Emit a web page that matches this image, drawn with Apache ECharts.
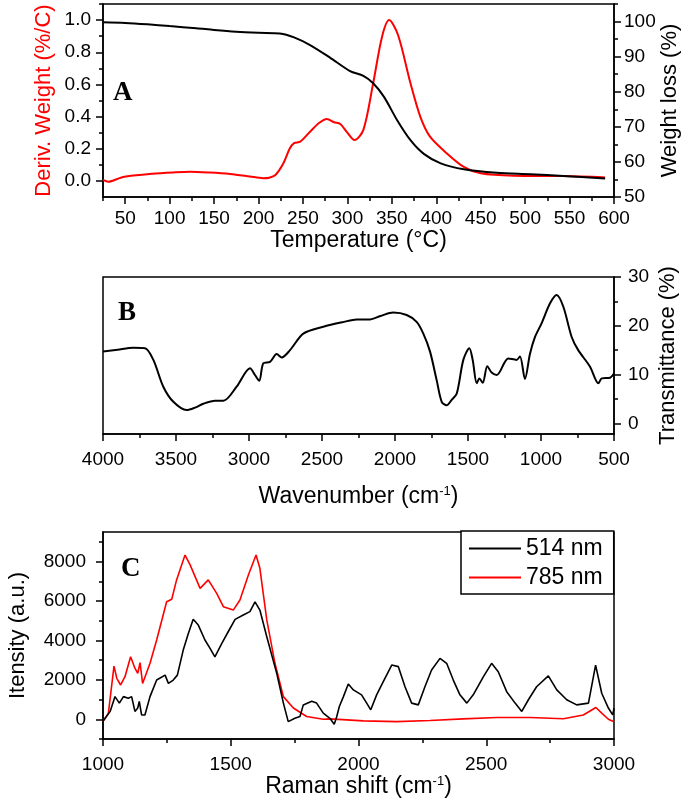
<!DOCTYPE html>
<html>
<head>
<meta charset="utf-8">
<script src="https://cdn.jsdelivr.net/npm/echarts@6/dist/echarts.min.js"></script>
<style>html,body{margin:0;padding:0;background:#fff;}#c{width:685px;height:805px;}</style>
</head>
<body>
<div id="c"></div>
<script>
// ---- Panel A: TGA / DTG ----
const tgaTemp   = [25, 50, 75, 100, 130, 150, 175, 200, 224, 240, 258, 280, 303, 318, 329, 341, 356, 371, 386, 405, 431, 468, 506, 543, 590];
const tgaWeight = [99.8, 99.6, 99.2, 98.7, 98.1, 97.6, 97.1, 96.8, 96.6, 95.5, 93.3, 89.8, 85.9, 84.5, 82.4, 78.6, 71.9, 66.2, 62.3, 59.6, 57.9, 56.9, 56.5, 56.0, 55.3];
const dtgTemp  = [25, 31, 45, 59, 80, 104, 123, 145, 168, 190, 205, 212, 219, 228, 235, 240, 247, 258, 268, 277, 285, 292, 300, 308, 318, 329, 339, 347, 357, 371, 382, 393, 412, 431, 450, 487, 543, 590];
const dtgValue = [0.006, -0.005, 0.02, 0.033, 0.045, 0.053, 0.057, 0.052, 0.043, 0.028, 0.017, 0.02, 0.037, 0.11, 0.2, 0.235, 0.244, 0.306, 0.36, 0.385, 0.365, 0.354, 0.3, 0.254, 0.317, 0.607, 0.897, 1.0, 0.907, 0.607, 0.40, 0.275, 0.171, 0.087, 0.047, 0.032, 0.03, 0.022];

// ---- Panel B: FTIR ----
const irWavenumber = [4000, 3900, 3792, 3712, 3655, 3587, 3518, 3427, 3370, 3313, 3233, 3176, 3085, 2993, 2959, 2930, 2902, 2856, 2810, 2776, 2719, 2628, 2491, 2350, 2262, 2171, 2100, 2012, 1920, 1852, 1806, 1760, 1715, 1680, 1646, 1612, 1577, 1532, 1491, 1468, 1440, 1422, 1399, 1368, 1338, 1303, 1224, 1167, 1144, 1110, 1075, 1041, 996, 938, 893, 847, 790, 745, 664, 607, 584, 527, 500];
const irTransmittance = [14.7, 15.1, 15.5, 15.4, 13.0, 7.5, 4.4, 2.7, 3.2, 4.0, 4.6, 4.6, 7.5, 11.3, 9.9, 8.7, 12.3, 12.6, 14.2, 13.5, 15.0, 18.4, 19.8, 20.8, 21.3, 21.3, 22.0, 22.7, 22.2, 20.8, 18.4, 14.7, 8.9, 4.4, 3.7, 4.8, 6.1, 13.0, 15.4, 13.0, 8.2, 9.2, 8.3, 11.7, 10.4, 9.9, 13.3, 13.0, 13.7, 9.1, 14.3, 17.7, 20.5, 24.6, 26.3, 23.9, 17.7, 15.0, 11.6, 8.2, 9.2, 9.35, 10.2];

// ---- Panel C: Raman ----
const raman514Shift = [1000, 1004, 1028, 1047, 1064, 1080, 1099, 1112, 1125, 1136, 1142, 1151, 1164, 1184, 1210, 1243, 1256, 1275, 1291, 1314, 1334, 1353, 1373, 1399, 1419, 1438, 1465, 1490, 1517, 1549, 1575, 1595, 1614, 1641, 1680, 1706, 1725, 1751, 1771, 1784, 1817, 1836, 1862, 1888, 1905, 1915, 1925, 1941, 1960, 1980, 2012, 2032, 2048, 2071, 2097, 2130, 2156, 2182, 2208, 2234, 2260, 2286, 2319, 2345, 2371, 2397, 2424, 2449, 2489, 2521, 2547, 2580, 2613, 2639, 2665, 2697, 2743, 2776, 2815, 2854, 2900, 2928, 2952, 2978, 2995, 3000];
const raman514Intensity = [-100, -120, 400, 1150, 820, 1150, 1070, 1150, 400, 570, 910, 220, 220, 1150, 1990, 2240, 1820, 1990, 2240, 3510, 4350, 5070, 4780, 4020, 3600, 3170, 3850, 4440, 5070, 5290, 5460, 5960, 5540, 4190, 2330, 820, -120, 50, 140, 730, 910, 820, 310, 50, -250, 140, 650, 1150, 1790, 1490, 1240, 820, 480, 1240, 1910, 2750, 2670, 1650, 820, 730, 1650, 2500, 3090, 2840, 1990, 1240, 820, 1240, 2160, 2840, 2410, 1400, 820, 400, 990, 1650, 2200, 1490, 990, 730, 820, 2750, 1320, 570, 220, 570];
const raman785Shift = [1000, 1004, 1021, 1043, 1054, 1069, 1086, 1108, 1125, 1136, 1145, 1155, 1184, 1210, 1249, 1269, 1288, 1321, 1341, 1380, 1412, 1445, 1471, 1510, 1536, 1569, 1599, 1614, 1641, 1673, 1706, 1745, 1797, 1862, 1888, 2019, 2149, 2280, 2410, 2541, 2671, 2802, 2880, 2929, 2952, 2978, 3000];
const raman785Intensity = [-100, -120, 300, 2700, 2080, 1740, 2160, 3170, 2590, 2330, 2870, 1820, 2840, 4020, 5960, 6090, 7070, 8330, 7830, 6640, 7070, 6390, 5710, 5540, 6050, 7320, 8330, 7660, 5040, 2840, 1150, 570, 140, 0, 20, -80, -120, -60, 20, 90, 90, 30, 220, 600, 310, 0, -120];

// ---- Tick values / labels ----
const aTempLabels = [50, 100, 150, 200, 250, 300, 350, 400, 450, 500, 550, 600];
const aTempTicks  = [25, 50, 75, 100, 125, 150, 175, 200, 225, 250, 275, 300, 325, 350, 375, 400, 425, 450, 475, 500, 525, 550, 575, 600];
const aDerivLabels = [0, 0.2, 0.4, 0.6, 0.8, 1.0];
const aDerivTicks  = [0, 0.1, 0.2, 0.3, 0.4, 0.5, 0.6, 0.7, 0.8, 0.9, 1.0, 1.1];
const aWeightLabels = [50, 60, 70, 80, 90, 100];
const aWeightTicks  = [50, 55, 60, 65, 70, 75, 80, 85, 90, 95, 100, 105];
const bWaveLabels = [500, 1000, 1500, 2000, 2500, 3000, 3500, 4000];
const bWaveTicks  = [500, 750, 1000, 1250, 1500, 1750, 2000, 2250, 2500, 2750, 3000, 3250, 3500, 3750, 4000];
const bTransLabels = [0, 10, 20, 30];
const bTransTicks  = [0, 5, 10, 15, 20, 25, 30];
const cShiftLabels = [1000, 1500, 2000, 2500, 3000];
const cShiftTicks  = [1000, 1250, 1500, 1750, 2000, 2250, 2500, 2750, 3000];
const cIntLabels = [0, 2000, 4000, 6000, 8000];
const cIntTicks  = [-1000, 0, 1000, 2000, 3000, 4000, 5000, 6000, 7000, 8000, 9000];

const pairs = (xs, ys) => xs.map((x, i) => [x, ys[i]]);
const FONT = '"Liberation Sans", Arial, sans-serif';
const LS = { color: '#000', width: 1.5 };
const plain = v => String(v);
const lblStyle = (margin, extra) => Object.assign({ show: true, margin: margin, fontSize: 19, color: '#000', fontFamily: FONT, formatter: plain }, extra || {});
const nameStyle = (color, size) => ({ fontSize: size, color: color || '#000', fontFamily: FONT,
  rich: { t: { fontSize: size, color: '#000', fontFamily: FONT }, s: { fontSize: 13, color: '#000', fontFamily: FONT, verticalAlign: 'top', padding: [0, 0, 9, 0] } } });

function mainAxis(o) {
  const ax = {
    gridIndex: o.grid, type: 'value', min: o.min, max: o.max, position: o.pos, inverse: !!o.inverse,
    axisLine: { show: true, onZero: false, lineStyle: LS },
    axisTick: { show: true, inside: false, length: 4, customValues: o.ticks, lineStyle: LS },
    axisLabel: lblStyle(o.margin, Object.assign({ customValues: o.labels }, o.fmt ? { formatter: o.fmt } : {})),
    splitLine: { show: false }, minorTick: { show: false }
  };
  if (o.name) {
    ax.name = o.name; ax.nameLocation = 'middle'; ax.nameGap = o.gap;
    ax.nameTextStyle = nameStyle(o.nameColor, o.nameSize || 22); ax.nameMoveOverlap = false;
  }
  return ax;
}
function majorAxis(o) {
  return {
    gridIndex: o.grid, type: 'value', min: o.min, max: o.max, position: o.pos, inverse: !!o.inverse,
    axisLine: { show: false, onZero: false },
    axisTick: { show: true, inside: false, length: 7, customValues: o.labels, lineStyle: LS },
    axisLabel: { show: false }, splitLine: { show: false }
  };
}

const xAxes = [
  mainAxis({ grid: 0, min: 25, max: 600, pos: 'bottom', ticks: aTempTicks, labels: aTempLabels, margin: 12, name: 'Temperature (°C)', gap: 32, nameSize: 23 }),
  majorAxis({ grid: 0, min: 25, max: 600, pos: 'bottom', labels: aTempLabels }),
  mainAxis({ grid: 1, min: 500, max: 4000, pos: 'bottom', inverse: true, ticks: bWaveTicks, labels: bWaveLabels, margin: 16, name: '{t|Wavenumber (cm}{s|-1}{t|)}', gap: 51, nameSize: 23 }),
  majorAxis({ grid: 1, min: 500, max: 4000, pos: 'bottom', inverse: true, labels: bWaveLabels }),
  mainAxis({ grid: 2, min: 1000, max: 3000, pos: 'bottom', ticks: cShiftTicks, labels: cShiftLabels, margin: 16, name: '{t|Raman shift (cm}{s|-1}{t|)}', gap: 36, nameSize: 23 }),
  majorAxis({ grid: 2, min: 1000, max: 3000, pos: 'bottom', labels: cShiftLabels })
];
const yAxes = [
  mainAxis({ grid: 0, min: -0.1, max: 1.1, pos: 'left', ticks: aDerivTicks, labels: aDerivLabels, margin: 12, fmt: v => v.toFixed(1), name: 'Deriv. Weight (%/C)', gap: 48, nameColor: '#ff0000' }),
  mainAxis({ grid: 0, min: 50, max: 105, pos: 'right', ticks: aWeightTicks, labels: aWeightLabels, margin: 10, name: 'Weight loss (%)', gap: 45 }),
  majorAxis({ grid: 0, min: -0.1, max: 1.1, pos: 'left', labels: aDerivLabels }),
  majorAxis({ grid: 0, min: 50, max: 105, pos: 'right', labels: aWeightLabels }),
  mainAxis({ grid: 1, min: -2.2, max: 30, pos: 'right', ticks: bTransTicks, labels: bTransLabels, margin: 14, name: 'Transmittance (%)', gap: 43 }),
  majorAxis({ grid: 1, min: -2.2, max: 30, pos: 'right', labels: bTransLabels }),
  mainAxis({ grid: 2, min: -1000, max: 9500, pos: 'left', ticks: cIntTicks, labels: cIntLabels, margin: 17, name: 'Itensity (a.u.)', gap: 74 }),
  majorAxis({ grid: 2, min: -1000, max: 9500, pos: 'left', labels: cIntLabels })
];

const gridBase = { show: true, borderColor: '#000', borderWidth: 1.5, backgroundColor: 'transparent', left: 103, right: 71, containLabel: false, outerBoundsMode: 'none' };
const line = (o) => Object.assign({ type: 'line', symbol: 'none', showSymbol: false, animation: false }, o);
const letterFont = 'bold 27px "Liberation Serif", "Times New Roman", serif';

const option = {
  animation: false,
  backgroundColor: '#fff',
  grid: [
    Object.assign({}, gridBase, { top: 4, height: 193 }),
    Object.assign({}, gridBase, { top: 277, height: 157 }),
    Object.assign({}, gridBase, { top: 532, height: 207 })
  ],
  xAxis: xAxes,
  yAxis: yAxes,
  legend: {
    data: ['514 nm', '785 nm'], orient: 'vertical', left: 461, top: 531,
    icon: 'rect', padding: [6, 11, 5, 8], itemGap: 6, itemWidth: 52, itemHeight: 2,
    borderColor: '#000', borderWidth: 1.5, backgroundColor: '#fff',
    textStyle: { fontSize: 23, color: '#000', fontFamily: FONT }
  },
  graphic: [
    { type: 'text', x: 113, y: 93, style: { text: 'A', font: letterFont, fill: '#000', verticalAlign: 'middle' } },
    { type: 'text', x: 118, y: 313, style: { text: 'B', font: letterFont, fill: '#000', verticalAlign: 'middle' } },
    { type: 'text', x: 121, y: 569, style: { text: 'C', font: letterFont, fill: '#000', verticalAlign: 'middle' } }
  ],
  series: [
    line({ name: 'DTG', xAxisIndex: 0, yAxisIndex: 0, smooth: 0.3, data: pairs(dtgTemp, dtgValue), lineStyle: { color: '#ff0000', width: 2 }, itemStyle: { color: '#ff0000' } }),
    line({ name: 'TGA', xAxisIndex: 0, yAxisIndex: 1, smooth: 0.3, data: pairs(tgaTemp, tgaWeight), lineStyle: { color: '#000', width: 2 }, itemStyle: { color: '#000' } }),
    line({ name: 'FTIR', xAxisIndex: 2, yAxisIndex: 4, smooth: 0.3, data: pairs(irWavenumber, irTransmittance), lineStyle: { color: '#000', width: 2 }, itemStyle: { color: '#000' } }),
    line({ name: '785 nm', xAxisIndex: 4, yAxisIndex: 6, data: pairs(raman785Shift, raman785Intensity), lineStyle: { color: '#ff0000', width: 1.6 }, itemStyle: { color: '#ff0000' } }),
    line({ name: '514 nm', xAxisIndex: 4, yAxisIndex: 6, data: pairs(raman514Shift, raman514Intensity), lineStyle: { color: '#000', width: 1.6 }, itemStyle: { color: '#000' } })
  ]
};

const chart = echarts.init(document.getElementById('c'), null, { renderer: 'canvas' });
chart.setOption(option);
</script>
</body>
</html>
